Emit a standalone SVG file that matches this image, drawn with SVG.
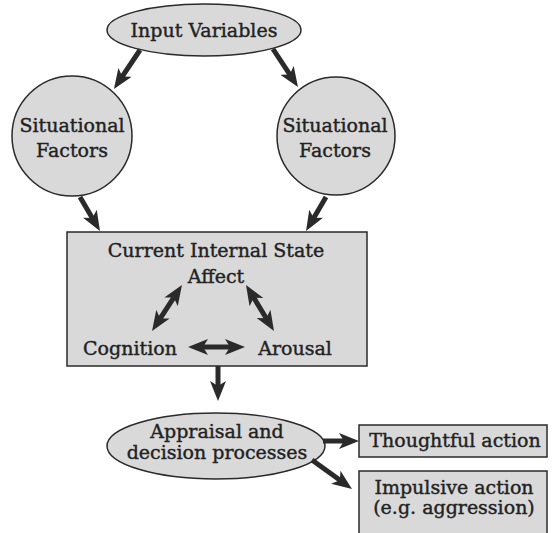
<svg xmlns="http://www.w3.org/2000/svg" width="555" height="533" viewBox="0 0 555 533">
<style>
.shape{fill:#d9d9d9;stroke:#2a2a2a;stroke-width:1.5}
.t{font-family:"DejaVu Serif","Liberation Serif",serif;font-size:19px;fill:#222;stroke:#222;stroke-width:0.4;text-anchor:middle}
.c{stroke:#2a2a2a;stroke-width:5;fill:none}
</style>
<defs>
<marker id="ah" markerUnits="userSpaceOnUse" viewBox="0 0 20 16" refX="10" refY="8" markerWidth="20" markerHeight="16" orient="auto-start-reverse">
<path d="M0,0 L20,8 L0,16 L5,8 Z" fill="#2a2a2a"/>
</marker>
</defs>
<rect width="555" height="533" fill="#fff"/>
<g id="input">
<ellipse class="shape" cx="204" cy="30" rx="97" ry="26"/>
<text class="t" x="204" y="37">Input Variables</text>
</g>
<g id="sit-left">
<circle class="shape" cx="72" cy="136" r="60"/>
<text class="t" x="72" y="132">Situational</text>
<text class="t" x="72" y="157">Factors</text>
</g>
<g id="sit-right">
<circle class="shape" cx="336" cy="136" r="59"/>
<text class="t" x="335" y="132">Situational</text>
<text class="t" x="335" y="157">Factors</text>
</g>
<g id="state">
<rect class="shape" x="67" y="232" width="300" height="134"/>
<text class="t" x="216" y="257">Current Internal State</text>
<text class="t" x="216" y="283">Affect</text>
<text class="t" x="130" y="355">Cognition</text>
<text class="t" x="295" y="355">Arousal</text>
</g>
<g id="appraisal">
<ellipse class="shape" cx="216" cy="446" rx="109" ry="33"/>
<text class="t" x="217" y="438">Appraisal and</text>
<text class="t" x="217" y="459">decision processes</text>
</g>
<g id="thoughtful">
<rect class="shape" x="359" y="425" width="188" height="32"/>
<text class="t" x="455" y="447">Thoughtful action</text>
</g>
<g id="impulsive">
<rect class="shape" x="359" y="471" width="188" height="75"/>
<text class="t" x="454" y="494">Impulsive action</text>
<text class="t" x="454" y="514">(e.g. aggression)</text>
</g>
<g id="connectors">
<line class="c" x1="140" y1="50" x2="119.5" y2="80.7" marker-end="url(#ah)"/>
<line class="c" x1="273" y1="49" x2="292.5" y2="78.7" marker-end="url(#ah)"/>
<line class="c" x1="80" y1="197" x2="94.9" y2="222.4" marker-end="url(#ah)"/>
<line class="c" x1="326" y1="197" x2="311.1" y2="222.4" marker-end="url(#ah)"/>
<line class="c" x1="176.5" y1="293.4" x2="157.5" y2="322.6" marker-start="url(#ah)" marker-end="url(#ah)"/>
<line class="c" x1="251.2" y1="293.5" x2="268.8" y2="322.5" marker-start="url(#ah)" marker-end="url(#ah)"/>
<line class="c" x1="198" y1="347" x2="235" y2="347" marker-start="url(#ah)" marker-end="url(#ah)"/>
<line class="c" x1="218" y1="366" x2="218" y2="391" marker-end="url(#ah)"/>
<line class="c" x1="323" y1="441" x2="349" y2="441" marker-end="url(#ah)"/>
<line class="c" x1="312" y1="460" x2="343.9" y2="483.1" marker-end="url(#ah)"/>
</g>
</svg>
